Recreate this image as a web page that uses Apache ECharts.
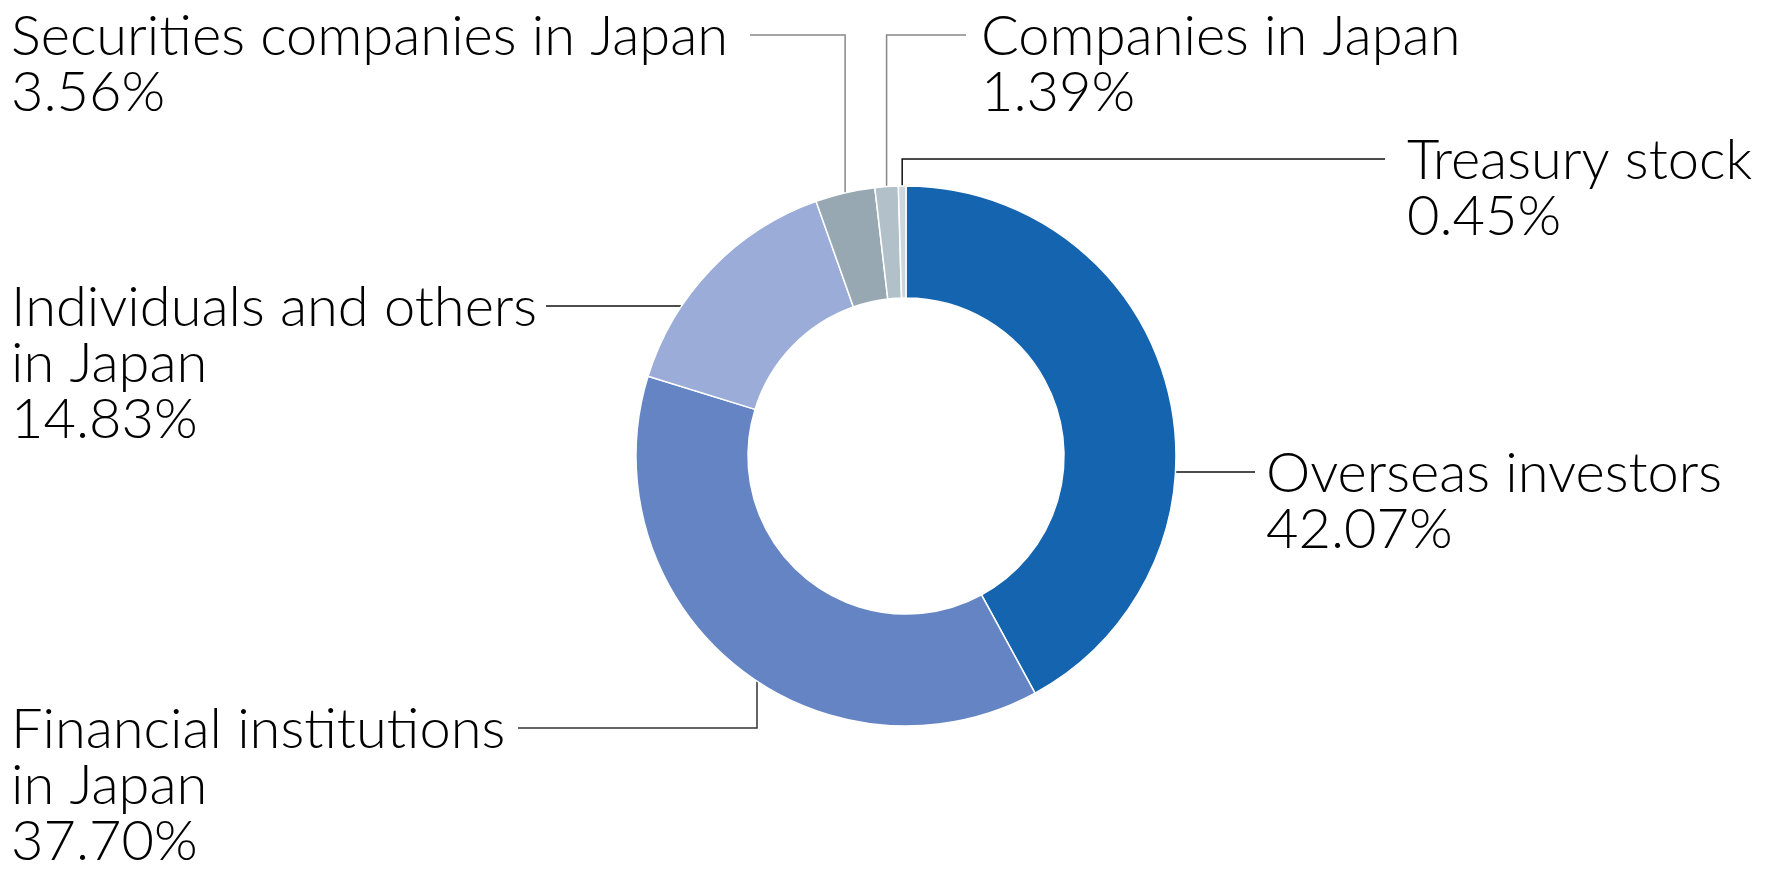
<!DOCTYPE html>
<html><head><meta charset="utf-8">
<script src="https://cdn.jsdelivr.net/npm/echarts@6/dist/echarts.min.js"></script>
<style>html,body{margin:0;padding:0;background:#fff}#c{width:1769px;height:874px}</style>
</head><body><div id="c"></div>
<script>
// ---- data ----
const categories = [
  'Overseas investors',
  'Financial institutions\nin Japan',
  'Individuals and others\nin Japan',
  'Securities companies in Japan',
  'Companies in Japan',
  'Treasury stock'
];
const shares = [42.07, 37.70, 14.83, 3.56, 1.39, 0.45];
const sliceColors = ['#1464AF', '#6484C3', '#9AACD7', '#97A8B2', '#B2C0CA', '#CCD6DE'];
const leaderColors = ['#111', '#333', '#111', '#888', '#888', '#111'];

// ---- geometry / layout ----
const CX = 906, CY = 456, R_IN = 158, R_OUT = 270;
const FONT = 56, LH = 56, CAP_OFF = 26.5;
// text left x, leader-line y, leader outer end x, mode ('h' = horizontal to ring, 'v' = elbow)
const labelPlace = [
  {tx: 1266, ly: 472, lx: 1255, mode: 'h'},
  {tx: 11,   ly: 728, lx: 518,  mode: 'v', ax: 757},
  {tx: 11,   ly: 306, lx: 546,  mode: 'h'},
  {tx: 11,   ly: 35,  lx: 750,  mode: 'v'},
  {tx: 981,  ly: 35,  lx: 966,  mode: 'v'},
  {tx: 1407, ly: 159, lx: 1385, mode: 'v'}
];

const total = shares.reduce((a, b) => a + b, 0);
const midAngles = [];
(function () {
  let acc = 0;
  shares.forEach(v => { midAngles.push((acc + v / 2) / total * 2 * Math.PI); acc += v; });
})();

const chart = echarts.init(document.getElementById('c'), null, {renderer: 'canvas'});
chart.setOption({
  animation: false,
  backgroundColor: '#fff',
  series: [{
    type: 'pie',
    center: [CX, CY],
    radius: [R_IN, R_OUT],
    startAngle: 90,
    clockwise: true,
    avoidLabelOverlap: false,
    silent: true,
    itemStyle: {borderColor: '#fff', borderWidth: 1.5},
    label: {
      show: true,
      position: 'outside',
      color: '#000',
      fontFamily: "Lato, 'Noto Sans', sans-serif",
      fontWeight: 300,
      fontSize: FONT,
      lineHeight: LH,
      formatter: p => p.name + '\n' + p.value.toFixed(2) + '%'
    },
    labelLine: {show: true, length: 10, length2: 10, smooth: false, lineStyle: {width: 1.5}},
    labelLayout: function (params) {
      const i = params.dataIndex;
      const L = labelPlace[i];
      let pts;
      if (L.mode === 'h') {
        const dy = L.ly - CY;
        const dx = Math.sqrt(R_OUT * R_OUT - dy * dy);
        const ax = L.tx > CX ? CX + dx : CX - dx;
        pts = [[ax, L.ly], [(ax + L.lx) / 2, L.ly], [L.lx, L.ly]];
      } else {
        const ax = L.ax != null ? L.ax : CX + R_OUT * Math.sin(midAngles[i]);
        const ddx = ax - CX;
        const h = Math.sqrt(R_OUT * R_OUT - ddx * ddx);
        const ay = L.ly < CY ? CY - h : CY + h;
        pts = [[ax, ay], [ax, L.ly], [L.lx, L.ly]];
      }
      return {
        x: L.tx, y: L.ly - CAP_OFF,
        align: 'left', verticalAlign: 'top',
        labelLinePoints: pts
      };
    },
    data: categories.map((name, i) => ({
      name: name,
      value: shares[i],
      itemStyle: {color: sliceColors[i]},
      labelLine: {lineStyle: {color: leaderColors[i]}}
    }))
  }]
});
</script>
</body></html>
